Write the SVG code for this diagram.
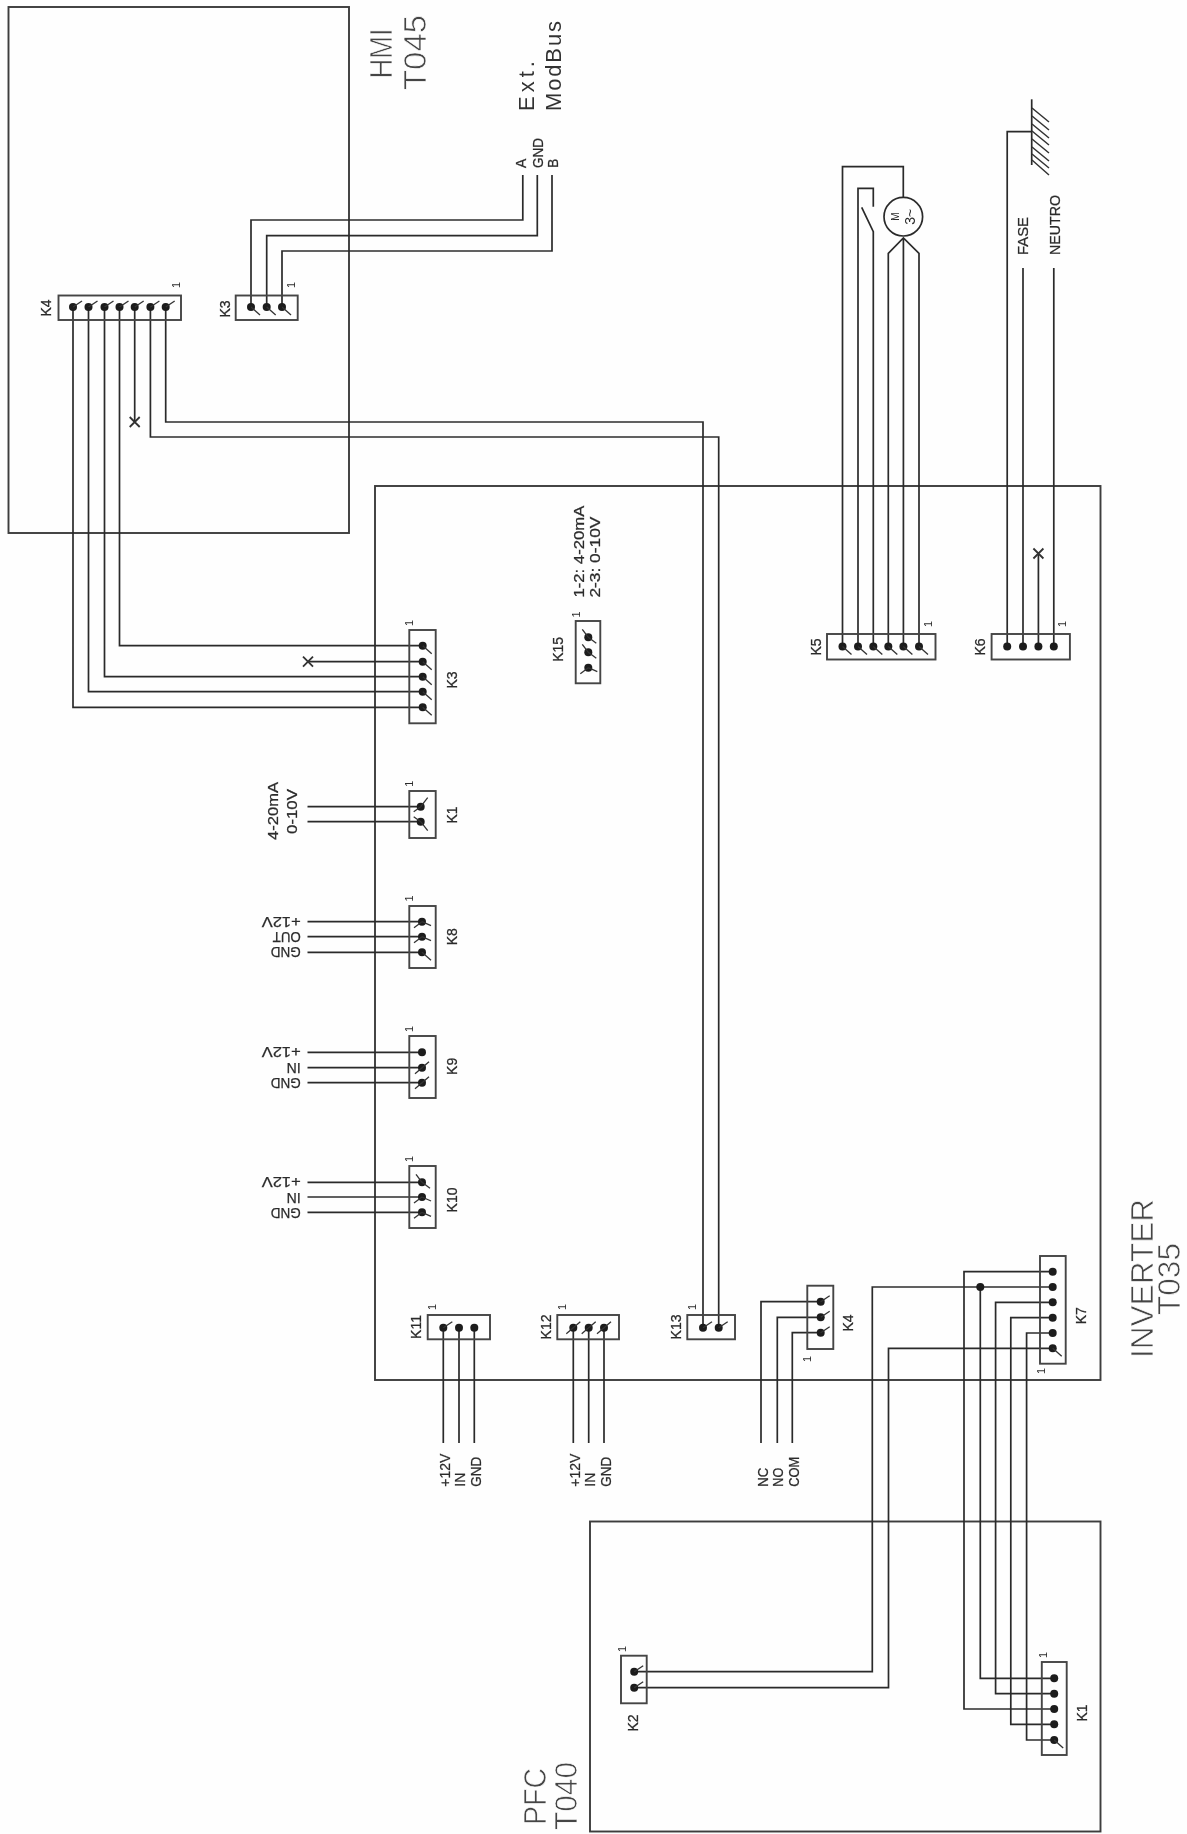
<svg xmlns="http://www.w3.org/2000/svg" xmlns:xlink="http://www.w3.org/1999/xlink" width="1187" height="1834" viewBox="0 0 1187 1834">
<style>
text{font-family:"Liberation Sans",Arial,sans-serif;fill:#2b2b2b}
.board{fill:none;stroke:#3c3c3c;stroke-width:1.9}
.conn{fill:none;stroke:#444;stroke-width:1.9}
.wire{fill:none;stroke:#2b2b2b;stroke-width:1.7}
.tail{fill:none;stroke:#333;stroke-width:1.3}
.dot{fill:#1c1c1c}
.k{font-size:14px;text-anchor:middle;stroke:#2b2b2b;stroke-width:.25}
.one{font-size:11px;text-anchor:middle}
.s{font-size:14px;stroke:#2b2b2b;stroke-width:.25}
.m{font-size:22px;fill:#333}
.t{font-size:31px;fill:#444;stroke:#fff;stroke-width:.7}
</style>
<defs>
<filter id="soft" filterUnits="userSpaceOnUse" x="0" y="0" width="1187" height="1834"><feGaussianBlur stdDeviation="0.45"/></filter>
<g id="d"><circle class="dot" r="4"/></g>
<g id="dr"><circle class="dot" r="4"/><path class="tail" d="M0 0L9 8"/></g>
<g id="ur"><circle class="dot" r="4"/><path class="tail" d="M0 0L9 -6"/></g>
<g id="dl"><circle class="dot" r="4"/><path class="tail" d="M0 0L-7 6M0 0L7 -6"/></g>
<g id="ru"><circle class="dot" r="4"/><path class="tail" d="M0 0L7 -9M0 0L-7 5"/></g>
<g id="rd"><circle class="dot" r="4"/><path class="tail" d="M0 0L7 9M0 0L-7 -5"/></g>
<g id="ld"><circle class="dot" r="4"/><path class="tail" d="M0 0L-8 6M0 0L9 4"/></g>
<g id="al"><circle class="dot" r="4"/><path class="tail" d="M0 0L-6 -8M0 0L8 6"/></g>
<path id="x" class="tail" style="stroke-width:1.8" d="M-5 -5L5 5M-5 5L5 -5"/>
</defs>
<rect width="1187" height="1834" fill="#fefefe"/>
<g filter="url(#soft)">
<g id="boards">
<g id="hmi"><rect class="board" x="8.5" y="7" width="340.5" height="526"/>
<text class="t" transform="translate(392,78.5) rotate(-90)" textLength="50" lengthAdjust="spacingAndGlyphs">HMI</text>
<text class="t" transform="translate(426,90) rotate(-90)" textLength="75" lengthAdjust="spacingAndGlyphs">T045</text></g>
<g id="inverter"><rect class="board" x="375" y="486" width="725.5" height="894"/>
<text class="t" transform="translate(1153,1358) rotate(-90)" textLength="159" lengthAdjust="spacingAndGlyphs">INVERTER</text>
<text class="t" transform="translate(1180,1315) rotate(-90)" textLength="72" lengthAdjust="spacingAndGlyphs">T035</text></g>
<g id="pfc"><rect class="board" x="590" y="1521.5" width="510.5" height="310"/>
<text class="t" transform="translate(545.5,1825) rotate(-90)" textLength="57" lengthAdjust="spacingAndGlyphs">PFC</text>
<text class="t" transform="translate(577.4,1830) rotate(-90)" textLength="68" lengthAdjust="spacingAndGlyphs">T040</text></g>
</g>

<g id="connectors">
<path class="wire" d="M251 307V220H522.8V175M266.7 307V235.7H537.3V175M282 307V251H552V175"/>
<path class="wire" d="M73 307V707.3H422.7M88.5 307V691.7H422.7M104.5 307V676.7H422.7M119.5 307V645.7H422.7"/>
<path class="wire" d="M134.7 307V422M150.4 307V437H718.7V1327.7M165.7 307V422H703V1327.7"/>
<path class="wire" d="M308 661.7H422.7"/>
<path class="wire" d="M307.5 806.7H420.7M307.5 821.7H420.7"/>
<path class="wire" d="M307.5 921.7H422M307.5 936.7H422M307.5 952.3H422"/>
<path class="wire" d="M307.5 1052.3H422M307.5 1067.7H422M307.5 1082.7H422"/>
<path class="wire" d="M307.5 1182.3H422M307.5 1197H422M307.5 1212.3H422"/>
<path class="wire" d="M443.3 1327.7V1443M459 1327.7V1443M474.3 1327.7V1443"/>
<path class="wire" d="M573.3 1327.7V1443M588.7 1327.7V1443M604 1327.7V1443"/>
<path class="wire" d="M820.7 1301.7H761V1443M820.7 1317.3H777.3V1443M820.7 1332.7H792.3V1443"/>
<path class="wire" d="M1052.7 1271.7H964V1709H1054.2M1052.7 1287H872.3V1671.7H634.2M980.3 1287V1678.3H1054.2M1052.7 1302.3H995.6V1693.7H1054.2M1052.7 1317.7H1010.8V1724.3H1054.2M1052.7 1333H1026.6V1740H1054.2M1052.7 1348.3H888.5V1687.7H634.2"/>
<circle class="dot" cx="980.3" cy="1287" r="4"/>
<path class="wire" d="M842.5 646.5V166.7H903.3V197M858 646.5V188.3H873.3V206.7M873.3 646.5V231.7L861.7 207.3M888.3 646.5V253.3L903.4 238L919 253.3V646.5M903.4 238V646.5"/>
<path class="wire" d="M1007.2 646.5V131.7H1031.7M1023 646.5V268M1038.4 646.5V553.5M1053.8 646.5V268"/>
</g>

<g id="ground">
<path class="wire" d="M1031.7 99.3V165"/>
<path class="tail" style="stroke-width:1.5" d="M1032 108l17 14M1032 116l17 14M1032 124l17 14M1032 131l17 14M1032 139l17 14M1032 147l17 14M1032 154l17 14M1032 160l17 15"/>
</g>

<g id="motor">
<circle cx="903.3" cy="216.7" r="19.3" fill="none" stroke="#2b2b2b" stroke-width="1.7"/>
<text transform="translate(899,216.7) rotate(-90)" style="font-size:10px;text-anchor:middle">M</text>
<text transform="translate(915,216.7) rotate(-90)" style="font-size:14px;text-anchor:middle">3~</text>
</g>

<use href="#x" x="134.7" y="422"/>
<use href="#x" x="308" y="661.7"/>
<use href="#x" x="1038.4" y="553.5"/>

<g id="ext-modbus">
<text class="m" transform="translate(533.8,111) rotate(-90)" textLength="50" lengthAdjust="spacing">Ext.</text>
<text class="m" transform="translate(560.7,111) rotate(-90)" textLength="90" lengthAdjust="spacing">ModBus</text>
<text class="s" transform="translate(526,168) rotate(-90)">A</text>
<text class="s" transform="translate(542.7,168) rotate(-90)" textLength="30" lengthAdjust="spacingAndGlyphs">GND</text>
<text class="s" transform="translate(558,168) rotate(-90)">B</text>
</g>

<g id="mains-labels">
<text class="s" transform="translate(1028.3,255) rotate(-90)" textLength="38" lengthAdjust="spacingAndGlyphs">FASE</text>
<text class="s" transform="translate(1060,255) rotate(-90)" textLength="60" lengthAdjust="spacingAndGlyphs">NEUTRO</text>
</g>

<g id="hmi-k4"><rect class="conn" x="58.5" y="295.5" width="122.5" height="24.5"/>
<use href="#ur" x="73" y="307"/><use href="#ur" x="88.5" y="307"/><use href="#ur" x="104.5" y="307"/><use href="#ur" x="119.5" y="307"/><use href="#ur" x="134.7" y="307"/><use href="#ur" x="150.4" y="307"/><use href="#ur" x="165.7" y="307"/>
<text class="k" transform="translate(51,308) rotate(-90)">K4</text>
<text class="one" transform="translate(180,285) rotate(-90)">1</text></g>

<g id="hmi-k3"><rect class="conn" x="235.7" y="295.5" width="62" height="24.5"/>
<use href="#dr" x="251" y="307"/><use href="#dr" x="266.7" y="307"/><use href="#dr" x="282" y="307"/>
<text class="k" transform="translate(229.6,309) rotate(-90)">K3</text>
<text class="one" transform="translate(295,285) rotate(-90)">1</text></g>

<g id="inv-k3"><rect class="conn" x="409.3" y="630" width="26.4" height="93.3"/>
<use href="#dr" x="422.7" y="645.7"/><use href="#dr" x="422.7" y="661.7"/><use href="#dr" x="422.7" y="676.7"/><use href="#dr" x="422.7" y="691.7"/><use href="#dr" x="422.7" y="707.3"/>
<text class="k" transform="translate(456.7,680) rotate(-90)">K3</text>
<text class="one" transform="translate(413,623) rotate(-90)">1</text></g>

<g id="inv-k1"><rect class="conn" x="409.3" y="791" width="26.4" height="47"/>
<use href="#ru" x="420.7" y="806.7"/><use href="#rd" x="420.7" y="821.7"/>
<text class="k" transform="translate(456.7,815) rotate(-90)">K1</text>
<text class="one" transform="translate(413,783.7) rotate(-90)">1</text>
<text class="s" transform="translate(278,840) rotate(-90)" textLength="58" lengthAdjust="spacingAndGlyphs">4-20mA</text>
<text class="s" transform="translate(297,834) rotate(-90)" textLength="45" lengthAdjust="spacingAndGlyphs">0-10V</text></g>

<g id="inv-k8"><rect class="conn" x="409.3" y="906" width="26.4" height="62"/>
<use href="#ld" x="422" y="921.7"/><use href="#ld" x="422" y="936.7"/><use href="#dr" x="422" y="952.3"/>
<text class="k" transform="translate(456.7,936.7) rotate(-90)">K8</text>
<text class="one" transform="translate(413,898.5) rotate(-90)">1</text>
<text class="s" transform="translate(300.7,916.7) rotate(180)" textLength="39" lengthAdjust="spacingAndGlyphs">+12V</text>
<text class="s" transform="translate(300.7,932) rotate(180)" textLength="28" lengthAdjust="spacingAndGlyphs">OUT</text>
<text class="s" transform="translate(300.7,947) rotate(180)" textLength="30" lengthAdjust="spacingAndGlyphs">GND</text></g>

<g id="inv-k9"><rect class="conn" x="409.3" y="1036" width="26.4" height="62"/>
<use href="#d" x="422" y="1052.3"/><use href="#dl" x="422" y="1067.7"/><use href="#dl" x="422" y="1082.7"/>
<text class="k" transform="translate(456.7,1066.4) rotate(-90)">K9</text>
<text class="one" transform="translate(413,1029) rotate(-90)">1</text>
<text class="s" transform="translate(300.7,1047.3) rotate(180)" textLength="39" lengthAdjust="spacingAndGlyphs">+12V</text>
<text class="s" transform="translate(300.7,1063.3) rotate(180)">IN</text>
<text class="s" transform="translate(300.7,1077.7) rotate(180)" textLength="30" lengthAdjust="spacingAndGlyphs">GND</text></g>

<g id="inv-k10"><rect class="conn" x="409.3" y="1166" width="26.4" height="62"/>
<use href="#al" x="422" y="1182.3"/><use href="#ld" x="422" y="1197"/><use href="#ld" x="422" y="1212.3"/>
<text class="k" transform="translate(456.7,1200) rotate(-90)">K10</text>
<text class="one" transform="translate(413,1159) rotate(-90)">1</text>
<text class="s" transform="translate(300.7,1177.3) rotate(180)" textLength="39" lengthAdjust="spacingAndGlyphs">+12V</text>
<text class="s" transform="translate(300.7,1192.7) rotate(180)">IN</text>
<text class="s" transform="translate(300.7,1208) rotate(180)" textLength="30" lengthAdjust="spacingAndGlyphs">GND</text></g>

<g id="inv-k15"><rect class="conn" x="575.7" y="621" width="24.6" height="62.3"/>
<use href="#al" x="588.3" y="637.3"/><use href="#al" x="588.3" y="652.3"/><use href="#ld" x="588.3" y="667.7"/>
<text class="k" transform="translate(562.7,649.3) rotate(-90)">K15</text>
<text class="one" transform="translate(580,614.5) rotate(-90)">1</text>
<text class="s" transform="translate(584,597.6) rotate(-90)" textLength="92" lengthAdjust="spacingAndGlyphs">1-2: 4-20mA</text>
<text class="s" transform="translate(600,597.6) rotate(-90)" textLength="81" lengthAdjust="spacingAndGlyphs">2-3: 0-10V</text></g>

<g id="inv-k11"><rect class="conn" x="427.7" y="1315" width="62.3" height="24.3"/>
<use href="#ur" x="443.3" y="1327.7"/><use href="#d" x="459" y="1327.7"/><use href="#d" x="474.3" y="1327.7"/>
<text class="k" transform="translate(421,1327) rotate(-90)">K11</text>
<text class="one" transform="translate(436,1307) rotate(-90)">1</text>
<text class="s" transform="translate(450,1486.7) rotate(-90)">+12V</text>
<text class="s" transform="translate(465,1486.7) rotate(-90)">IN</text>
<text class="s" transform="translate(481,1486.7) rotate(-90)" textLength="30" lengthAdjust="spacingAndGlyphs">GND</text></g>

<g id="inv-k12"><rect class="conn" x="557.3" y="1315" width="61.7" height="24.3"/>
<use href="#dl" x="573.3" y="1327.7"/><use href="#dl" x="588.7" y="1327.7"/><use href="#dl" x="604" y="1327.7"/>
<text class="k" transform="translate(551,1327) rotate(-90)">K12</text>
<text class="one" transform="translate(566,1307) rotate(-90)">1</text>
<text class="s" transform="translate(580,1486.7) rotate(-90)">+12V</text>
<text class="s" transform="translate(595,1486.7) rotate(-90)">IN</text>
<text class="s" transform="translate(610.7,1486.7) rotate(-90)" textLength="30" lengthAdjust="spacingAndGlyphs">GND</text></g>

<g id="inv-k13"><rect class="conn" x="687.3" y="1315" width="47.7" height="24.3"/>
<use href="#ur" x="703" y="1327.7"/><use href="#ur" x="718.7" y="1327.7"/>
<text class="k" transform="translate(681,1327) rotate(-90)">K13</text>
<text class="one" transform="translate(696,1307) rotate(-90)">1</text></g>

<g id="inv-k4"><rect class="conn" x="807.3" y="1285.7" width="26" height="63.3"/>
<use href="#ur" x="820.7" y="1301.7"/><use href="#ur" x="820.7" y="1317.3"/><use href="#ur" x="820.7" y="1332.7"/>
<text class="k" transform="translate(853,1323) rotate(-90)">K4</text>
<text class="one" transform="translate(811,1359) rotate(-90)">1</text>
<text class="s" transform="translate(768,1486.7) rotate(-90)" textLength="19" lengthAdjust="spacingAndGlyphs">NC</text>
<text class="s" transform="translate(783,1486.7) rotate(-90)" textLength="19" lengthAdjust="spacingAndGlyphs">NO</text>
<text class="s" transform="translate(799,1486.7) rotate(-90)" textLength="30" lengthAdjust="spacingAndGlyphs">COM</text></g>

<g id="inv-k5"><rect class="conn" x="827" y="634" width="108.5" height="25.5"/>
<use href="#dr" x="842.5" y="646.5"/><use href="#dr" x="858" y="646.5"/><use href="#dr" x="873.3" y="646.5"/><use href="#dr" x="888.3" y="646.5"/><use href="#dr" x="903.4" y="646.5"/><use href="#dr" x="919" y="646.5"/>
<text class="k" transform="translate(821,647) rotate(-90)">K5</text>
<text class="one" transform="translate(932,624) rotate(-90)">1</text></g>

<g id="inv-k6"><rect class="conn" x="991.6" y="634" width="78.3" height="25.5"/>
<use href="#d" x="1007.2" y="646.5"/><use href="#d" x="1023" y="646.5"/><use href="#d" x="1038.4" y="646.5"/><use href="#d" x="1053.8" y="646.5"/>
<text class="k" transform="translate(985,647) rotate(-90)">K6</text>
<text class="one" transform="translate(1066,624) rotate(-90)">1</text></g>

<g id="inv-k7"><rect class="conn" x="1040" y="1256" width="25.7" height="107.7"/>
<use href="#d" x="1052.7" y="1271.7"/><use href="#d" x="1052.7" y="1287"/><use href="#d" x="1052.7" y="1302.3"/><use href="#d" x="1052.7" y="1317.7"/><use href="#d" x="1052.7" y="1333"/><use href="#dr" x="1052.7" y="1348.3"/>
<text class="k" transform="translate(1086,1315.7) rotate(-90)">K7</text>
<text class="one" transform="translate(1045,1371) rotate(-90)">1</text></g>

<g id="pfc-k2"><rect class="conn" x="621" y="1655.7" width="25.7" height="47.6"/>
<use href="#ur" x="634.2" y="1671.7"/><use href="#ur" x="634.2" y="1687.7"/>
<text class="k" transform="translate(638,1723) rotate(-90)">K2</text>
<text class="one" transform="translate(626,1649) rotate(-90)">1</text></g>

<g id="pfc-k1"><rect class="conn" x="1041.8" y="1662" width="24.9" height="93"/>
<use href="#d" x="1054.2" y="1678.3"/><use href="#d" x="1054.2" y="1693.7"/><use href="#d" x="1054.2" y="1709"/><use href="#d" x="1054.2" y="1724.3"/><use href="#dr" x="1054.2" y="1740"/>
<text class="k" transform="translate(1087,1713) rotate(-90)">K1</text>
<text class="one" transform="translate(1047,1655) rotate(-90)">1</text></g>
</g>
</svg>
